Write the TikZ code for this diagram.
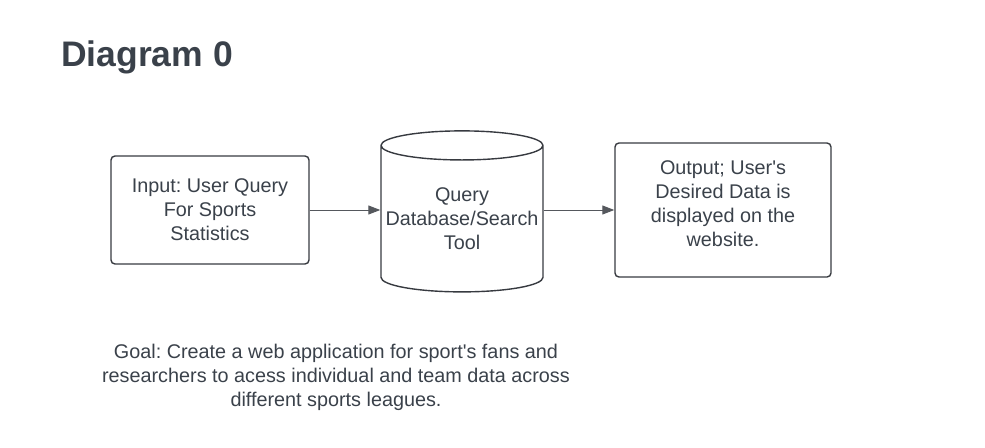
\documentclass[tikz,border=0pt]{standalone}
\usepackage{fontspec}
\setmainfont{Liberation Sans}
\usetikzlibrary{arrows.meta,shapes.geometric}
\definecolor{ink}{RGB}{58,65,74}
\definecolor{edge}{RGB}{55,58,64}
\tikzset{
	box/.style={draw=edge, line width=1.4pt, rounded corners=4pt, align=center, text=ink,
		font=\fontsize{19.8}{24}\selectfont\frenchspacing},
	flow/.style={draw=edge!85, line width=1pt, -{Triangle[length=12pt,width=9pt]}}
}
\begin{document}
\begin{tikzpicture}[x=1pt,y=-1pt]
	\useasboundingbox (0,0) rectangle (985,447);
	\node[anchor=base west, text=ink, font=\fontsize{35.5}{40}\selectfont\bfseries, inner sep=0pt]
		(title) at (61,66) {Diagram 0};

	\node[box, minimum width=198pt, minimum height=108pt] (in) at (210,210)
		{Input: User Query\\For Sports\\Statistics};
	\node[box, rounded corners=0pt, cylinder, shape border rotate=90, aspect=0.19,
		minimum width=162pt, minimum height=161pt, inner sep=0pt] (db) at (462,219)
		{Query\\Database/Search\\Tool};
	\node[box, minimum width=216pt, minimum height=134pt, text depth=12pt] (out) at (723,210)
		{Output; User\textquotesingle s\\Desired Data is\\displayed on the\\website.};

	\draw[flow] (in.east) -- (db.west |- in.east);
	\draw[flow] (db.east |- out.west) -- (out.west);

	\node[align=center, text=ink, font=\fontsize{19.8}{24}\selectfont\frenchspacing] (goal) at (336,377)
		{Goal: Create a web application for sport\textquotesingle s fans and\\researchers to acess individual and team data across\\different sports leagues.};
\end{tikzpicture}
\end{document}
